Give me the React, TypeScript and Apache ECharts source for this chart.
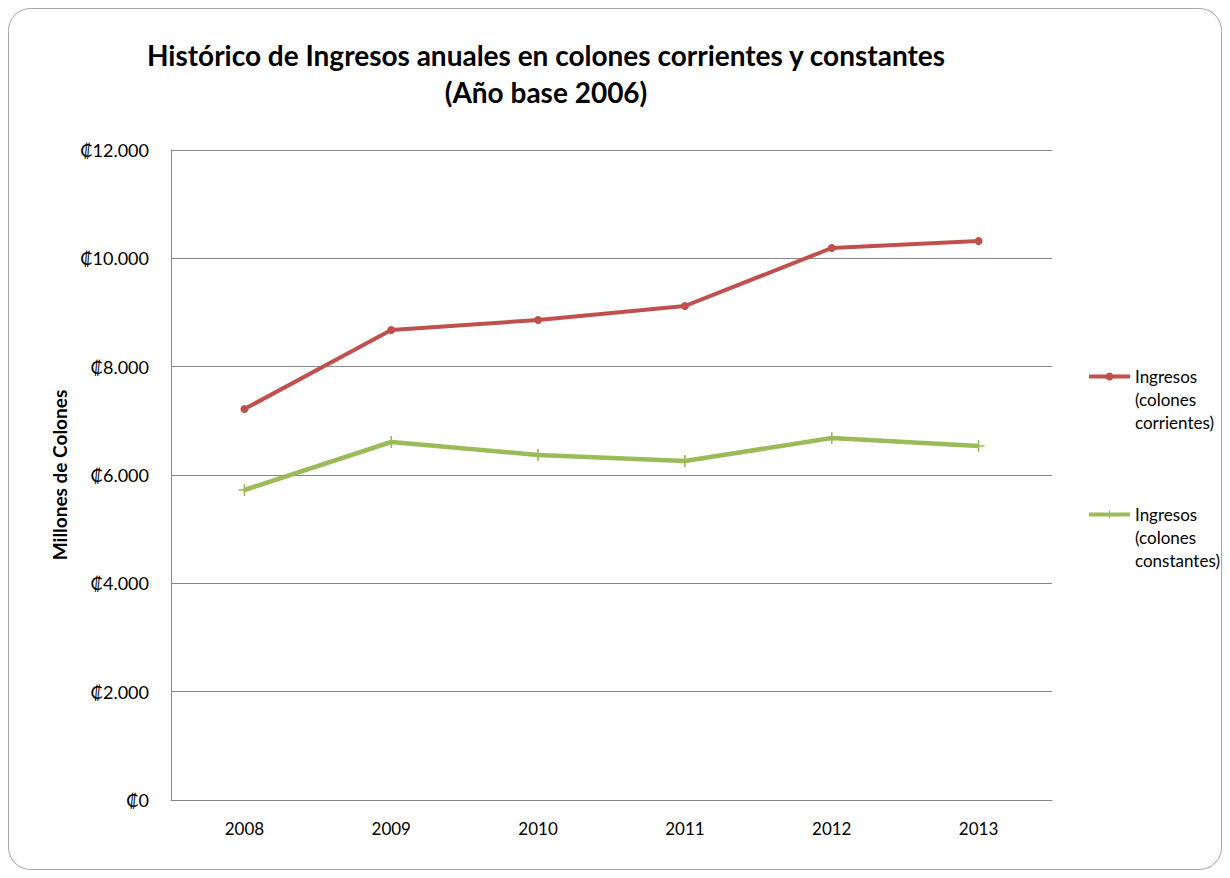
import React, { useEffect, useRef } from "react";
import * as echarts from "echarts";

const years = ["2008", "2009", "2010", "2011", "2012", "2013"];
const corrientes = [7218, 8677, 8862, 9120, 10191, 10320];
const constantes = [5723, 6609, 6369, 6258, 6683, 6535];
const seriesNames = ["Ingresos (colones corrientes)", "Ingresos (colones constantes)"];
const titleText = "Histórico de Ingresos anuales en colones corrientes y constantes\n(Año base 2006)";
const yAxisName = "Millones de Colones";

const FONT = "Lato, 'Open Sans', sans-serif";
const plusPath =
  "path://M4.3,0H5.7V4.3H10V5.7H5.7V10H4.3V5.7H0V4.3H4.3Z";

function fmt(v: number): string {
  const s = String(Math.round(v));
  return "₡" + s.replace(/\B(?=(\d{3})+(?!\d))/g, ".");
}

export default function App() {
  const ref = useRef<HTMLDivElement>(null);
  useEffect(() => {
    if (!ref.current) return;
    const chart = echarts.init(ref.current, undefined, { renderer: "svg" });
    chart.setOption({
      animation: false,
      backgroundColor: "#fff",
      textStyle: { fontFamily: FONT },
      graphic: [
        {
          type: "rect",
          shape: { x: 0.5, y: 0.5, width: 1213, height: 861, r: 22 },
          style: { fill: "none", stroke: "#a6a6a6", lineWidth: 1 },
          silent: true,
        },
      ],
      title: {
        text: titleText,
        left: 533,
        top: 23,
        textAlign: "center",
        textStyle: {
          fontFamily: FONT,
          fontSize: 28,
          fontWeight: "bold",
          color: "#000",
          lineHeight: 37,
        },
      },
      grid: { left: 163, top: 142, right: 170, bottom: 70, containLabel: false },
      legend: {
        orient: "vertical",
        left: 1079,
        top: 311,
        padding: 0,
        itemGap: 23,
        itemWidth: 41,
        itemHeight: 10,
        data: seriesNames,
        lineStyle: { width: 4 },
        formatter: (name: string) => "\n\n" + name.split(" ").join("\n"),
        textStyle: { fontFamily: FONT, fontSize: 17, color: "#000", lineHeight: 23 },
      },
      xAxis: {
        type: "category",
        data: years,
        boundaryGap: true,
        axisLine: { show: true, lineStyle: { color: "#888", width: 1 } },
        axisTick: { show: false },
        axisLabel: { fontFamily: FONT, fontSize: 17, color: "#000", margin: 20 },
      },
      yAxis: {
        type: "value",
        min: 0,
        max: 12000,
        interval: 2000,
        name: yAxisName,
        nameLocation: "middle",
        nameGap: 100,
        nameRotate: 90,
        nameTextStyle: { fontFamily: FONT, fontSize: 19, fontWeight: "bold", color: "#000" },
        axisLine: { show: true, lineStyle: { color: "#888", width: 1 } },
        axisTick: { show: false },
        splitLine: { show: true, lineStyle: { color: "#888", width: 1 } },
        axisLabel: {
          fontFamily: FONT,
          fontSize: 18,
          color: "#000",
          margin: 22,
          formatter: (v: number) => fmt(v),
        },
      },
      series: [
        {
          name: seriesNames[0],
          type: "line",
          data: corrientes,
          symbol: "circle",
          symbolSize: 8,
          lineStyle: { color: "#C0504D", width: 4 },
          itemStyle: { color: "#C0504D" },
        },
        {
          name: seriesNames[1],
          type: "line",
          data: constantes,
          symbol: plusPath,
          symbolSize: 12,
          lineStyle: { color: "#9BBB59", width: 4.5 },
          itemStyle: { color: "#9BBB59" },
        },
      ],
    });
    return () => chart.dispose();
  }, []);
  return <div ref={ref} style={{ width: 1214, height: 862 }} />;
}
